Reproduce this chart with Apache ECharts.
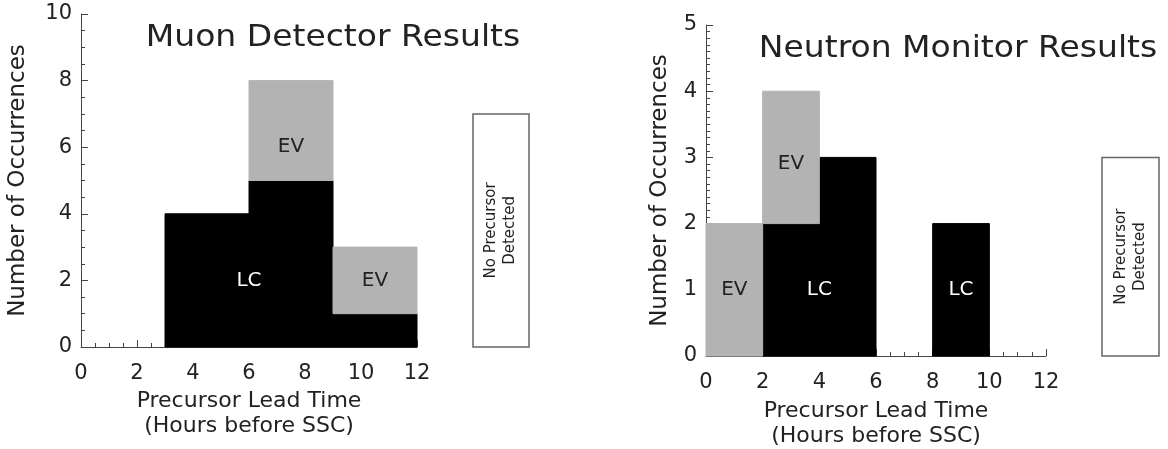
<!DOCTYPE html>
<html><head><meta charset="utf-8">
<script src="https://cdn.jsdelivr.net/npm/echarts@6/dist/echarts.min.js"></script>
<style>html,body{margin:0;padding:0;background:#fff}#c{width:1168px;height:449px}</style>
</head><body><div id="c"></div>
<script>
// ---- data ----
const titles = ['Muon Detector Results', 'Neutron Monitor Results'];
const xTickLabels = ['0','2','4','6','8','10','12'];
const muonBinStart = [3, 6, 9];
const muonBinEnd = [6, 9, 12];
const muonLC = [4, 5, 1];
const muonEV = [0, 3, 2];
const muonNone = 7;
const muonLabelText = ['LC', 'EV', 'EV'];
const muonLabelX = [6, 7.5, 10.5];
const muonLabelY = [2, 6, 2];

const neutronBinStart = [0, 2, 4, 8];
const neutronBinEnd = [2, 4, 6, 10];
const neutronLC = [0, 2, 3, 2];
const neutronEV = [2, 2, 0, 0];
const neutronNone = 3;
const neutronLabelText = ['EV', 'EV', 'LC', 'LC'];
const neutronLabelX = [1, 3, 4, 9];
const neutronLabelY = [1, 2.9, 1, 1];

const noneStart = 14, noneEnd = 16;

// ---- styling ----
const FONT = '"DejaVu Sans", sans-serif';
const TXT = '#222';
const AX = '#444';
const GRAY = '#b3b3b3';

function lcData(s, e, lc) {
  const out = [];
  for (let i = 0; i < s.length; i++) if (lc[i] > 0) out.push([s[i], e[i], 0, lc[i]]);
  return out;
}
function evData(s, e, lc, ev) {
  const out = [];
  for (let i = 0; i < s.length; i++) if (ev[i] > 0) out.push([s[i], e[i], lc[i], lc[i] + ev[i]]);
  return out;
}
function rectRender(fill) {
  return function (params, api) {
    const p0 = api.coord([api.value(0), api.value(2)]);
    const p1 = api.coord([api.value(1), api.value(3)]);
    return { type: 'rect', shape: { x: p0[0], y: p1[1], width: p1[0] - p0[0], height: p0[1] - p1[1] },
      style: { fill: fill, stroke: fill, lineWidth: 1 } };
  };
}
function labelRender(texts) {
  return function (params, api) {
    const p = api.coord([api.value(0), api.value(1)]);
    const t = texts[params.dataIndex];
    return { type: 'text', x: p[0], y: p[1], z2: 10,
      style: { text: t, fill: t === 'LC' ? '#fff' : TXT, font: '20px ' + FONT, align: 'center', verticalAlign: 'middle' } };
  };
}
function boxRender(params, api) {
  const p0 = api.coord([api.value(0), api.value(2)]);
  const p1 = api.coord([api.value(1), api.value(3)]);
  const w = p1[0] - p0[0], h = p0[1] - p1[1];
  return { type: 'group', children: [
    { type: 'rect', shape: { x: p0[0], y: p1[1], width: w, height: h },
      style: { fill: '#fff', stroke: '#666', lineWidth: 1.5 } },
    { type: 'text', x: p0[0] + w / 2, y: p1[1] + h / 2, rotation: Math.PI / 2,
      style: { text: 'No Precursor\nDetected', fill: TXT, font: '15px ' + FONT, lineHeight: 19,
        align: 'center', verticalAlign: 'middle' } }
  ] };
}

function xMain(grid, labelMargin, nameGap) {
  return {
    type: 'value', gridIndex: grid, min: 0, max: 12, interval: 2,
    axisLine: { show: true, lineStyle: { color: AX, width: 1 } },
    axisTick: { show: true, inside: true, length: 7, lineStyle: { color: AX } },
    minorTick: { show: true, splitNumber: 4, length: 4, lineStyle: { color: AX } },
    splitLine: { show: false }, minorSplitLine: { show: false },
    axisLabel: { color: TXT, fontSize: 21, fontFamily: FONT, margin: labelMargin,
      formatter: v => xTickLabels[Math.round(v / 2)] },
    name: 'Precursor Lead Time\n(Hours before SSC)', nameLocation: 'middle', nameGap: nameGap,
    nameTextStyle: { color: TXT, fontSize: 22, fontFamily: FONT, lineHeight: 25 }
  };
}
function yMain(grid, max, interval, minorSplit, nameGap) {
  return {
    type: 'value', gridIndex: grid, min: 0, max: max, interval: interval,
    axisLine: { show: true, lineStyle: { color: AX, width: 1 } },
    axisTick: { show: true, inside: true, length: 7, lineStyle: { color: AX } },
    minorTick: { show: true, splitNumber: minorSplit, length: 4, lineStyle: { color: AX } },
    splitLine: { show: false }, minorSplitLine: { show: false },
    axisLabel: { color: TXT, fontSize: 21, fontFamily: FONT, margin: 9 },
    name: 'Number of Occurrences', nameLocation: 'middle', nameGap: nameGap, nameRotate: 90,
    nameTextStyle: { color: TXT, fontSize: 23, fontFamily: FONT }
  };
}
function hiddenX(grid) {
  return { type: 'value', gridIndex: grid, min: noneStart, max: noneEnd, show: false };
}
function hiddenY(grid, max) {
  return { type: 'value', gridIndex: grid, min: 0, max: max, show: false };
}

const option = {
  animation: false,
  backgroundColor: '#fff',
  graphic: [
    { type: 'text', x: 333, y: 38, scaleX: 1.1, z: 10,
      style: { text: titles[0], fill: TXT, font: '30px ' + FONT, align: 'center', verticalAlign: 'middle' } },
    { type: 'text', x: 958, y: 49, scaleX: 1.1, z: 10,
      style: { text: titles[1], fill: TXT, font: '30px ' + FONT, align: 'center', verticalAlign: 'middle' } }
  ],
  grid: [
    { left: 81, top: 14, width: 336, height: 333, outerBoundsMode: 'none', containLabel: false },
    { left: 473, top: 14, width: 56, height: 333, outerBoundsMode: 'none', containLabel: false },
    { left: 706, top: 25, width: 340, height: 331, outerBoundsMode: 'none', containLabel: false },
    { left: 1102, top: 25, width: 57, height: 331, outerBoundsMode: 'none', containLabel: false }
  ],
  xAxis: [xMain(0, 16, 42), hiddenX(1), xMain(2, 16, 43), hiddenX(3)],
  yAxis: [yMain(0, 10, 2, 4, 51), hiddenY(1, 10), yMain(2, 5, 1, 10, 34), hiddenY(3, 5)],
  series: [
    { type: 'custom', xAxisIndex: 0, yAxisIndex: 0, renderItem: rectRender('#000'),
      data: lcData(muonBinStart, muonBinEnd, muonLC) },
    { type: 'custom', xAxisIndex: 0, yAxisIndex: 0, renderItem: rectRender(GRAY),
      data: evData(muonBinStart, muonBinEnd, muonLC, muonEV) },
    { type: 'custom', xAxisIndex: 0, yAxisIndex: 0, renderItem: labelRender(muonLabelText), z: 5,
      data: muonLabelX.map((x, i) => [x, muonLabelY[i]]) },
    { type: 'custom', xAxisIndex: 1, yAxisIndex: 1, renderItem: boxRender,
      data: [[noneStart, noneEnd, 0, muonNone]] },
    { type: 'custom', xAxisIndex: 2, yAxisIndex: 2, renderItem: rectRender('#000'),
      data: lcData(neutronBinStart, neutronBinEnd, neutronLC) },
    { type: 'custom', xAxisIndex: 2, yAxisIndex: 2, renderItem: rectRender(GRAY),
      data: evData(neutronBinStart, neutronBinEnd, neutronLC, neutronEV) },
    { type: 'custom', xAxisIndex: 2, yAxisIndex: 2, renderItem: labelRender(neutronLabelText), z: 5,
      data: neutronLabelX.map((x, i) => [x, neutronLabelY[i]]) },
    { type: 'custom', xAxisIndex: 3, yAxisIndex: 3, renderItem: boxRender,
      data: [[noneStart, noneEnd, 0, neutronNone]] }
  ]
};
const chart = echarts.init(document.getElementById('c'), null, { renderer: 'canvas' });
chart.setOption(option);
</script>
</body></html>
